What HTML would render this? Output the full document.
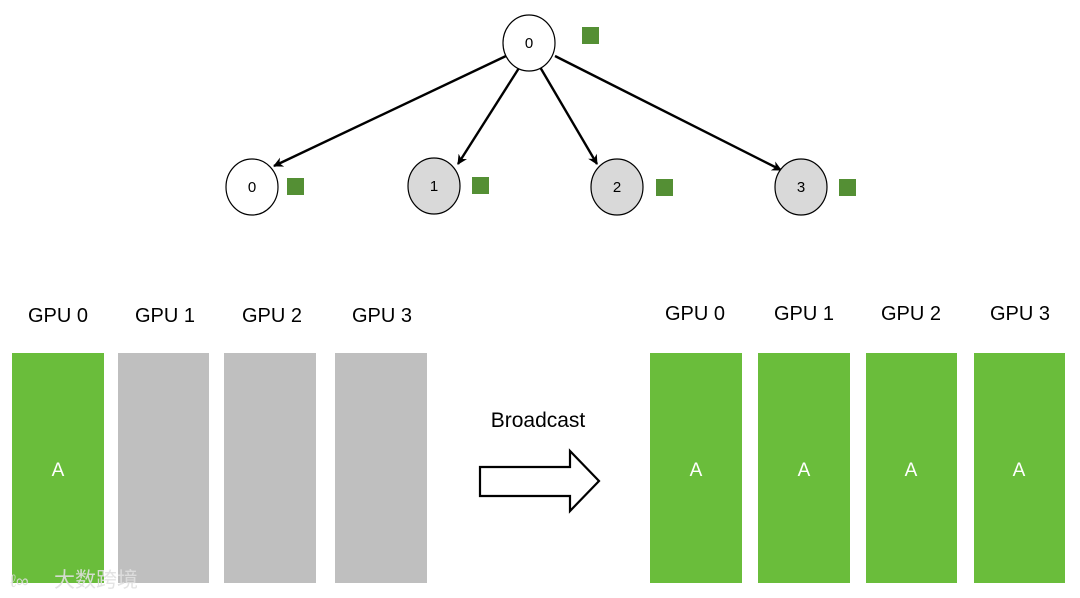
<!DOCTYPE html>
<html><head><meta charset="utf-8"><style>
html,body{margin:0;padding:0;background:#fff;}
body{width:1080px;height:598px;overflow:hidden;position:relative;}
</style></head><body>
<svg width="1080" height="598" viewBox="0 0 1080 598" xmlns="http://www.w3.org/2000/svg" style="position:absolute;left:0;top:0">
<defs>
<marker id="ah" markerWidth="10" markerHeight="10" refX="9" refY="5" orient="auto" markerUnits="userSpaceOnUse">
<path d="M0,0 L10,5 L0,10 L3,5 z" fill="#000"/>
</marker>
</defs>
<g stroke="#000" stroke-width="2.4" fill="none">
<line x1="506" y1="56" x2="274" y2="166" marker-end="url(#ah)"/>
<line x1="519" y1="68" x2="458" y2="164" marker-end="url(#ah)"/>
<line x1="540" y1="67" x2="597" y2="164" marker-end="url(#ah)"/>
<line x1="555" y1="56" x2="781" y2="170" marker-end="url(#ah)"/>
</g>
<g stroke="#000" stroke-width="1.2">
<ellipse cx="529" cy="43" rx="26" ry="28" fill="#fff"/>
<ellipse cx="252" cy="187" rx="26" ry="28" fill="#fff"/>
<ellipse cx="434" cy="186" rx="26" ry="28" fill="#d9d9d9"/>
<ellipse cx="617" cy="187" rx="26" ry="28" fill="#d9d9d9"/>
<ellipse cx="801" cy="187" rx="26" ry="28" fill="#d9d9d9"/>
</g>
<g font-family="Liberation Sans, sans-serif" font-size="15" fill="#000" text-anchor="middle">
<text x="529" y="48">0</text>
<text x="252" y="192">0</text>
<text x="434" y="191">1</text>
<text x="617" y="192">2</text>
<text x="801" y="192">3</text>
</g>
<g fill="#548f34">
<rect x="582" y="27" width="17" height="17"/>
<rect x="287" y="178" width="17" height="17"/>
<rect x="472" y="177" width="17" height="17"/>
<rect x="656" y="179" width="17" height="17"/>
<rect x="839" y="179" width="17" height="17"/>
</g>
<g font-family="Liberation Sans, sans-serif" font-size="20" fill="#000" text-anchor="middle">
<text x="58" y="322">GPU 0</text>
<text x="165" y="322">GPU 1</text>
<text x="272" y="322">GPU 2</text>
<text x="382" y="322">GPU 3</text>
<text x="695" y="320">GPU 0</text>
<text x="804" y="320">GPU 1</text>
<text x="911" y="320">GPU 2</text>
<text x="1020" y="320">GPU 3</text>
<text x="538" y="427" font-size="21">Broadcast</text>
</g>
<rect x="12" y="353" width="92" height="230" fill="#6abd3b"/>
<rect x="118" y="353" width="91" height="230" fill="#bfbfbf"/>
<rect x="224" y="353" width="92" height="230" fill="#bfbfbf"/>
<rect x="335" y="353" width="92" height="230" fill="#bfbfbf"/>
<rect x="650" y="353" width="92" height="230" fill="#6abd3b"/>
<rect x="758" y="353" width="92" height="230" fill="#6abd3b"/>
<rect x="866" y="353" width="91" height="230" fill="#6abd3b"/>
<rect x="974" y="353" width="91" height="230" fill="#6abd3b"/>
<g font-family="Liberation Sans, sans-serif" font-size="19" fill="#fff" text-anchor="middle">
<text x="58" y="476">A</text>
<text x="696" y="476">A</text>
<text x="804" y="476">A</text>
<text x="911" y="476">A</text>
<text x="1019" y="476">A</text>
</g>
<path d="M480,467 L570,467 L570,451 L599,481 L570,511 L570,496 L480,496 Z" fill="#fff" stroke="#000" stroke-width="2.2"/>
<text x="10" y="587" font-family="Liberation Sans, sans-serif" font-size="18" fill="#ddd" opacity="0.9">ℓ∞</text>
<text x="54" y="587" font-family="Liberation Sans, 'Noto Sans CJK SC', sans-serif" font-size="21" fill="#e0e0e0" opacity="0.9">大数跨境</text>
</svg>
</body></html>
